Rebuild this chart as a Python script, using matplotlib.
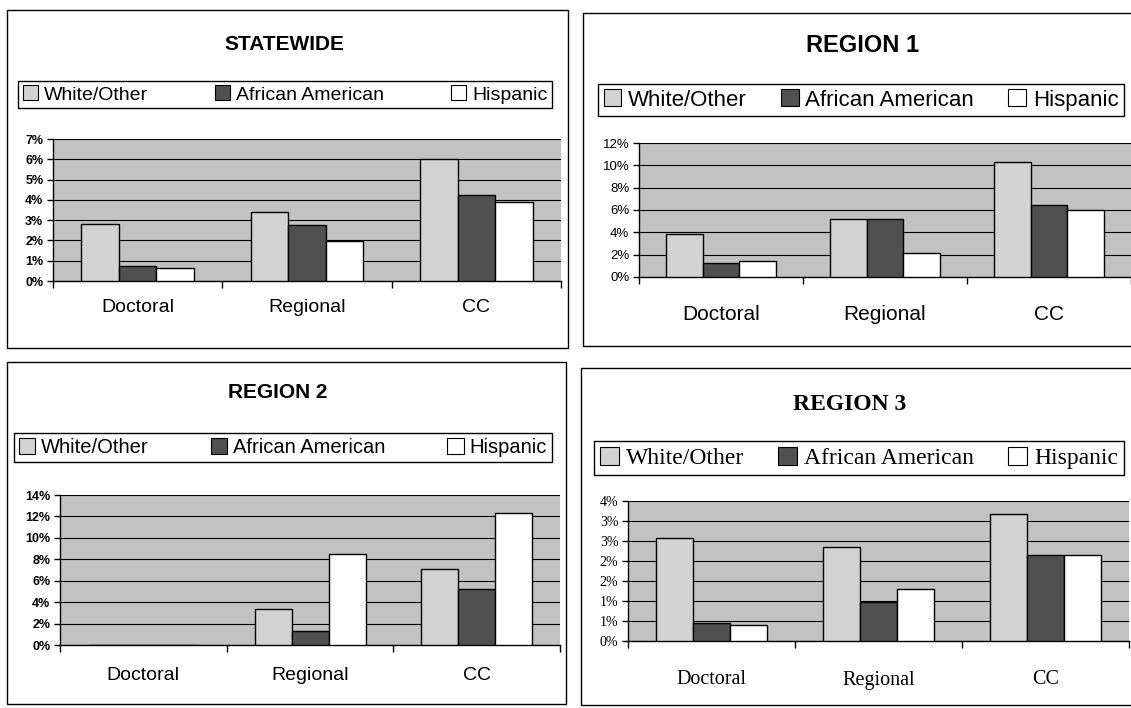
import matplotlib
matplotlib.use("Agg")
import matplotlib.pyplot as plt
from matplotlib.patches import Rectangle, Patch
from matplotlib.transforms import blended_transform_factory
import numpy as np

# ---------------- data ----------------
categories = ["Doctoral", "Regional", "CC"]
series_names = ["White/Other", "African American", "Hispanic"]

statewide_white = [2.81, 3.42, 6.03]
statewide_aa = [0.73, 2.77, 4.23]
statewide_hisp = [0.63, 1.97, 3.90]
statewide_ticks = [0, 1, 2, 3, 4, 5, 6, 7]
statewide_ticklabels = ["0%", "1%", "2%", "3%", "4%", "5%", "6%", "7%"]

region1_white = [3.85, 5.18, 10.30]
region1_aa = [1.28, 5.15, 6.45]
region1_hisp = [1.45, 2.15, 6.02]
region1_ticks = [0, 2, 4, 6, 8, 10, 12]
region1_ticklabels = ["0%", "2%", "4%", "6%", "8%", "10%", "12%"]

region2_white = [0.0, 3.35, 7.10]
region2_aa = [0.0, 1.30, 5.20]
region2_hisp = [0.0, 8.45, 12.30]
region2_ticks = [0, 2, 4, 6, 8, 10, 12, 14]
region2_ticklabels = ["0%", "2%", "4%", "6%", "8%", "10%", "12%", "14%"]

region3_white = [2.57, 2.34, 3.17]
region3_aa = [0.45, 0.97, 2.14]
region3_hisp = [0.39, 1.29, 2.16]
region3_ticks = [0, 0.5, 1.0, 1.5, 2.0, 2.5, 3.0, 3.5]
region3_ticklabels = ["0%", "1%", "1%", "2%", "2%", "3%", "3%", "4%"]

# ---------------- style ----------------
W, H = 1131, 708
BG = "#c2c2c2"
COLORS = ["#d2d2d2", "#505050", "#ffffff"]

fig = plt.figure(figsize=(W / 100, H / 100), dpi=100)
fig.patch.set_facecolor("white")


def fx(px):
    return px / W


def fy(py):
    return 1 - py / H


def add_box(x0, y0, x1, y1, lw=1.0):
    fig.add_artist(Rectangle((fx(x0), fy(y1)), fx(x1) - fx(x0), fy(y0) - fy(y1),
                             transform=fig.transFigure, fill=False,
                             edgecolor="black", linewidth=lw))


def panel(title, values, ticks, ticklabels, box, title_xy, legend_box, plot_box,
          label_y, family, title_size, legend_size, label_size, tick_size,
          tick_weight):
    add_box(*box)
    fig.text(fx(title_xy[0]), fy(title_xy[1]), title, ha="center", va="center",
             fontsize=title_size, fontweight="bold", family=family)

    x0, y0, x1, y1 = plot_box
    ax = fig.add_axes([fx(x0), fy(y1), fx(x1) - fx(x0), fy(y0) - fy(y1)])
    ax.set_facecolor(BG)
    x = np.arange(len(categories))
    bw = 0.222
    for k, (vals, col) in enumerate(zip(values, COLORS)):
        ax.bar(x + (k - 1) * bw, vals, bw, color=col, edgecolor="black",
               linewidth=1.0, zorder=3)
    ax.set_xlim(-0.5, len(categories) - 0.5)
    ax.set_ylim(0, ticks[-1])
    ax.set_yticks(ticks)
    ax.set_yticklabels(ticklabels, fontsize=tick_size, fontweight=tick_weight,
                       family=family)
    ax.yaxis.grid(True, color="black", linewidth=0.8)
    ax.set_axisbelow(True)
    ax.set_xticks(np.arange(len(categories) + 1) - 0.5)
    ax.set_xticklabels([])
    ax.tick_params(axis="x", direction="out", length=5, width=1)
    ax.tick_params(axis="y", direction="out", length=4, width=1, pad=3)
    for s in ["top", "right"]:
        ax.spines[s].set_visible(False)
    for s in ["left", "bottom"]:
        ax.spines[s].set_linewidth(1.0)
    tr = blended_transform_factory(ax.transData, fig.transFigure)
    for i, c in enumerate(categories):
        ax.text(i, fy(label_y), c, transform=tr, ha="center", va="center",
                fontsize=label_size, family=family)

    handles = [Patch(facecolor=c, edgecolor="black", linewidth=0.8) for c in COLORS]
    lx0, ly0, lx1, ly1 = legend_box
    leg = fig.legend(handles, series_names, loc="center",
                     bbox_to_anchor=(fx(lx0), fy(ly1), fx(lx1) - fx(lx0), fy(ly0) - fy(ly1)),
                     mode="expand", ncol=3, frameon=True, fancybox=False,
                     edgecolor="black", framealpha=1, borderaxespad=0,
                     handlelength=0.8, handleheight=0.8, handletextpad=0.3,
                     borderpad=0.25, prop={"family": family, "size": legend_size})
    leg.get_frame().set_linewidth(1.0)
    return ax


SANS = ["Liberation Sans", "DejaVu Sans"]
SERIF = ["Liberation Serif", "DejaVu Serif"]

panel("STATEWIDE", [statewide_white, statewide_aa, statewide_hisp],
      statewide_ticks, statewide_ticklabels,
      box=(7, 10, 568, 348), title_xy=(284, 44), legend_box=(18, 77, 552, 112),
      plot_box=(53, 139, 561, 281), label_y=308, family=SANS,
      title_size=15, legend_size=14, label_size=14, tick_size=9,
      tick_weight="bold")

panel("REGION 1", [region1_white, region1_aa, region1_hisp],
      region1_ticks, region1_ticklabels,
      box=(583, 13, 1140, 346), title_xy=(863, 45), legend_box=(598, 80, 1124, 120),
      plot_box=(639, 143, 1131, 277), label_y=315, family=SANS,
      title_size=17, legend_size=16, label_size=15, tick_size=9.5,
      tick_weight="normal")

panel("REGION 2", [region2_white, region2_aa, region2_hisp],
      region2_ticks, region2_ticklabels,
      box=(7, 362, 566, 704), title_xy=(278, 393), legend_box=(14, 429, 552, 466),
      plot_box=(60, 495, 560, 645), label_y=675, family=SANS,
      title_size=15, legend_size=14.5, label_size=14, tick_size=9,
      tick_weight="bold")

panel("REGION 3", [region3_white, region3_aa, region3_hisp],
      region3_ticks, region3_ticklabels,
      box=(581, 368, 1140, 705), title_xy=(850, 404), legend_box=(594, 440, 1124, 476),
      plot_box=(628, 501, 1129, 641), label_y=680, family=SERIF,
      title_size=17, legend_size=17, label_size=14.5, tick_size=10,
      tick_weight="normal")

fig.savefig("out.png", dpi=100)
